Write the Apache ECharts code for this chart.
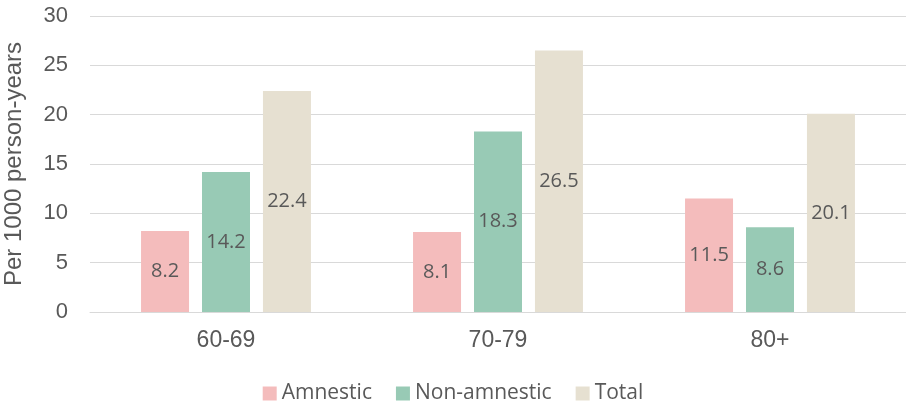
<!DOCTYPE html>
<html><head><meta charset="utf-8">
<script src="https://cdn.jsdelivr.net/npm/echarts@6/dist/echarts.min.js"></script>
<style>html,body{margin:0;padding:0;background:#fff}#c{width:906px;height:409px}</style>
</head><body><div id="c"></div>
<script>
var categories = ['60-69', '70-79', '80+'];
var amnestic = [8.2, 8.1, 11.5];
var nonAmnestic = [14.2, 18.3, 8.6];
var total = [22.4, 26.5, 20.1];
var yTicks = [0, 5, 10, 15, 20, 25, 30];

var chart = echarts.init(document.getElementById('c'));
var lbl = {show: true, position: 'inside', color: '#595959', fontSize: 20, fontFamily: 'Open Sans'};
function s(name, data, color) {
  return {name: name, type: 'bar', data: data, barWidth: 48, barGap: '27%',
    itemStyle: {color: color}, label: lbl};
}
chart.setOption({
  animation: false,
  grid: {left: 90, right: 0, top: 16, bottom: 97, containLabel: false, outerBoundsMode: 'none'},
  legend: {bottom: 0, left: 'center', itemWidth: 14, itemHeight: 14, itemGap: 24,
    icon: 'rect', textStyle: {color: '#595959', fontSize: 21, fontFamily: 'Open Sans'}},
  xAxis: {type: 'category', data: categories,
    axisLine: {lineStyle: {color: '#d9d9d9', width: 1}}, axisTick: {show: false},
    axisLabel: {color: '#595959', fontSize: 23, margin: 17, fontFamily: 'Liberation Sans'}},
  yAxis: {type: 'value', min: yTicks[0], max: yTicks[yTicks.length - 1], interval: 5,
    name: 'Per 1000 person-years', nameLocation: 'middle', nameGap: 64,
    nameTextStyle: {color: '#595959', fontSize: 24, fontFamily: 'Liberation Sans'},
    axisLine: {show: false}, axisTick: {show: false},
    splitLine: {lineStyle: {color: '#d9d9d9', width: 1}},
    axisLabel: {color: '#595959', fontSize: 22, margin: 22, fontFamily: 'Liberation Sans'}},
  series: [
    s('Amnestic', amnestic, '#F4BCBC'),
    s('Non-amnestic', nonAmnestic, '#98CAB5'),
    s('Total', total, '#E6E0D1')
  ]
});
</script></body></html>
